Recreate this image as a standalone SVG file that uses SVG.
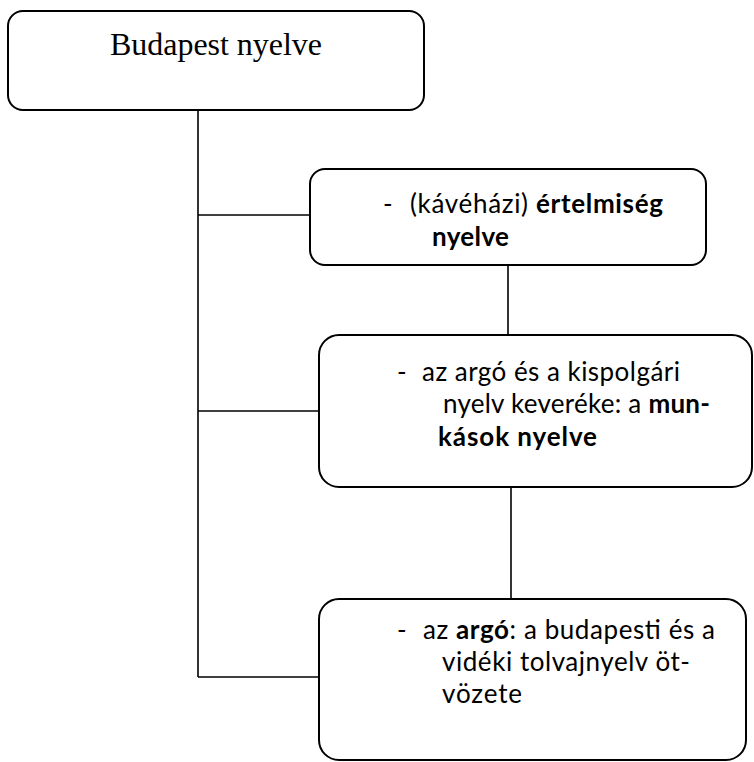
<svg xmlns="http://www.w3.org/2000/svg" width="754" height="762" viewBox="0 0 754 762">
<style>
.box{fill:#fff;stroke:#000;stroke-width:2}
.con{stroke:#000;stroke-width:1.6;fill:none}
.t{font-family:Lato,"Open Sans","Liberation Sans",sans-serif;font-size:26px;fill:#000}
.b{font-weight:bold}
.serif{font-family:"Liberation Serif","Times New Roman",serif;font-size:32px;fill:#000}
</style>
<rect width="754" height="762" fill="#fff"/>
<g id="connectors">
<line class="con" x1="198" y1="110" x2="198" y2="677"/>
<line class="con" x1="198" y1="215" x2="310" y2="215"/>
<line class="con" x1="198" y1="411" x2="319" y2="411"/>
<line class="con" x1="198" y1="677" x2="319" y2="677"/>
<line class="con" x1="508" y1="265" x2="508" y2="351"/>
<line class="con" x1="511" y1="479" x2="511" y2="600"/>
</g>
<g id="node-budapest">
<rect class="box" x="8" y="11" width="416" height="99" rx="15"/>
<text class="serif" x="110" y="55" textLength="212">Budapest nyelve</text>
</g>
<g id="node-ertelmiseg">
<rect class="box" x="310" y="169" width="396" height="96" rx="15"/>
<text class="t" x="383" y="213">-</text>
<text class="t" x="410" y="213" textLength="253">(kávéházi) <tspan class="b">értelmiség</tspan></text>
<text class="t b" x="432" y="246" textLength="77">nyelve</text>
</g>
<g id="node-munkasok">
<rect class="box" x="319" y="335" width="433" height="152" rx="20"/>
<text class="t" x="397" y="381">-</text>
<text class="t" x="422" y="381" textLength="258">az argó és a kispolgári</text>
<text class="t" x="443" y="413" textLength="267">nyelv keveréke: a <tspan class="b">mun-</tspan></text>
<text class="t b" x="438" y="446" textLength="159">kások nyelve</text>
</g>
<g id="node-argo">
<rect class="box" x="319" y="599" width="427" height="161" rx="20"/>
<text class="t" x="397" y="639">-</text>
<text class="t" x="423" y="639" textLength="292">az <tspan class="b">argó</tspan>: a budapesti és a</text>
<text class="t" x="442" y="671" textLength="248">vidéki tolvajnyelv öt-</text>
<text class="t" x="442" y="703" textLength="80">vözete</text>
</g>
</svg>
